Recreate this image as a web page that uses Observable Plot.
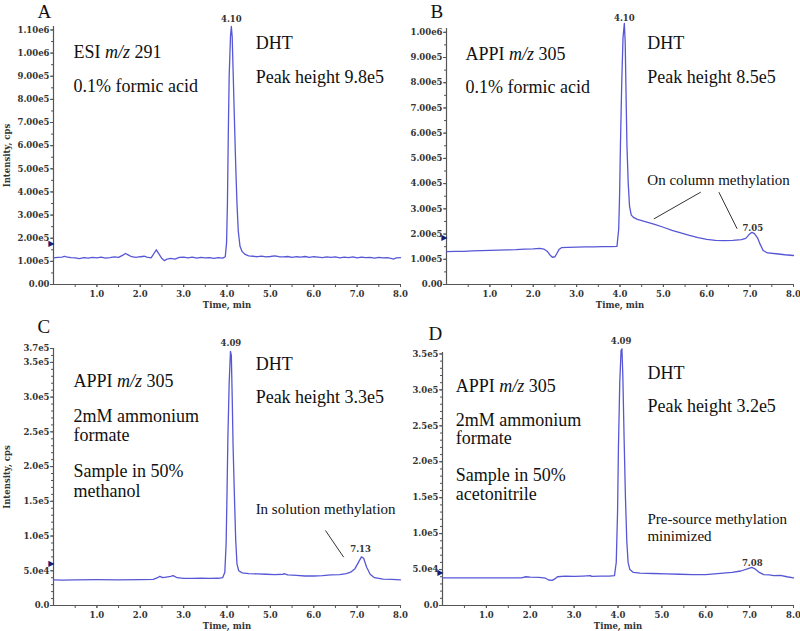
<!DOCTYPE html>
<html>
<head>
<meta charset="utf-8">
<script src="https://cdn.jsdelivr.net/npm/d3@7"></script>
<script src="https://cdn.jsdelivr.net/npm/@observablehq/plot@0.6"></script>
<style>
  html, body { margin: 0; padding: 0; background: #fff; }
  #fig { position: relative; width: 800px; height: 631px; background: #fff; overflow: hidden; }
  #fig > div { position: absolute; }
  #fig svg { overflow: visible; }
</style>
</head>
<body>
<div id="fig">
  <div id="pA" style="left:0px;top:0px"></div>
  <div id="pB" style="left:400px;top:0px"></div>
  <div id="pC" style="left:0px;top:310px"></div>
  <div id="pD" style="left:400px;top:310px"></div>
</div>
<script>
// ---------- data (intensity in units of 1e5 cps) ----------
const UNIT = 1e5;

const timeA = [0.00,0.10,0.20,0.25,0.30,0.40,0.50,0.60,0.70,0.80,0.90,1.00,1.10,1.20,1.30,1.40,1.50,1.60,1.66,1.72,1.80,1.90,2.00,2.10,2.15,2.25,2.32,2.37,2.43,2.50,2.56,2.62,2.70,2.80,2.90,3.00,3.10,3.20,3.30,3.40,3.50,3.60,3.70,3.80,3.90,3.96,3.99,4.01,4.03,4.05,4.08,4.10,4.12,4.14,4.17,4.20,4.23,4.26,4.30,4.35,4.42,4.50,4.60,4.70,4.80,4.90,5.00,5.10,5.20,5.30,5.40,5.50,5.60,5.70,5.80,5.90,6.00,6.10,6.20,6.30,6.40,6.50,6.60,6.70,6.80,6.90,7.00,7.10,7.20,7.30,7.40,7.50,7.60,7.70,7.80,7.85,7.90,8.00];
const intensityA = [1.15,1.17,1.18,1.22,1.19,1.16,1.15,1.12,1.16,1.14,1.17,1.15,1.18,1.14,1.16,1.19,1.17,1.27,1.34,1.28,1.20,1.17,1.20,1.22,1.18,1.15,1.35,1.50,1.32,1.12,1.03,1.10,1.13,1.10,1.17,1.18,1.15,1.18,1.14,1.17,1.15,1.16,1.13,1.16,1.14,1.20,1.80,3.50,6.50,9.00,10.70,11.15,10.70,9.30,7.20,5.20,3.50,2.30,1.65,1.42,1.30,1.24,1.22,1.20,1.23,1.19,1.21,1.24,1.20,1.19,1.21,1.17,1.20,1.18,1.21,1.17,1.20,1.18,1.16,1.19,1.17,1.19,1.15,1.18,1.16,1.19,1.15,1.18,1.16,1.17,1.14,1.17,1.15,1.16,1.12,1.10,1.15,1.16];

const timeB = [0.00,0.20,0.40,0.60,0.80,1.00,1.20,1.40,1.60,1.80,2.00,2.15,2.25,2.32,2.38,2.44,2.50,2.55,2.60,2.65,2.80,3.00,3.20,3.40,3.60,3.80,3.93,3.97,3.99,4.01,4.04,4.07,4.10,4.12,4.14,4.16,4.19,4.22,4.26,4.32,4.40,4.60,4.80,5.00,5.20,5.40,5.60,5.80,6.00,6.20,6.40,6.60,6.80,6.90,6.97,7.04,7.10,7.17,7.23,7.30,7.40,7.60,7.80,8.00];
const intensityB = [1.30,1.31,1.31,1.33,1.34,1.35,1.36,1.37,1.38,1.40,1.41,1.43,1.40,1.32,1.18,1.08,1.10,1.25,1.40,1.46,1.47,1.48,1.49,1.49,1.50,1.50,1.51,2.20,3.50,5.50,8.00,9.80,10.35,9.60,7.50,5.50,4.00,3.10,2.75,2.65,2.58,2.48,2.38,2.27,2.15,2.05,1.95,1.86,1.79,1.75,1.74,1.75,1.78,1.83,1.97,2.07,2.02,1.85,1.60,1.35,1.25,1.22,1.18,1.15];

const timeC = [0.00,0.20,0.50,1.00,1.50,2.00,2.30,2.40,2.45,2.52,2.60,2.70,2.76,2.85,3.00,3.20,3.40,3.60,3.80,3.90,3.95,3.98,4.00,4.02,4.05,4.08,4.10,4.12,4.14,4.17,4.20,4.23,4.27,4.35,4.50,4.70,4.90,5.10,5.30,5.31,5.40,5.60,5.80,6.00,6.20,6.40,6.60,6.75,6.85,6.95,7.03,7.10,7.15,7.22,7.30,7.40,7.60,7.80,8.00];
const intensityC = [0.370,0.365,0.370,0.372,0.370,0.372,0.375,0.400,0.420,0.400,0.410,0.420,0.430,0.400,0.390,0.390,0.395,0.390,0.392,0.400,0.480,0.900,1.600,2.400,3.200,3.660,3.600,3.000,2.300,1.600,0.950,0.600,0.500,0.470,0.460,0.455,0.450,0.445,0.450,0.460,0.440,0.435,0.425,0.425,0.430,0.440,0.445,0.460,0.480,0.530,0.620,0.700,0.680,0.550,0.450,0.400,0.380,0.375,0.370];

const timeD = [0.00,0.50,1.00,1.50,1.80,1.90,2.00,2.20,2.35,2.42,2.50,2.56,2.62,2.80,3.00,3.20,3.37,3.40,3.60,3.80,3.92,3.96,3.99,4.01,4.04,4.07,4.09,4.11,4.14,4.17,4.20,4.23,4.27,4.35,4.50,4.80,5.10,5.40,5.70,6.00,6.20,6.40,6.60,6.80,6.95,7.05,7.12,7.22,7.32,7.45,7.55,7.70,7.85,8.00];
const intensityD = [0.385,0.385,0.385,0.385,0.385,0.400,0.395,0.390,0.380,0.355,0.350,0.370,0.400,0.410,0.405,0.410,0.415,0.405,0.410,0.410,0.415,0.600,1.300,2.200,3.100,3.550,3.570,3.200,2.300,1.500,0.900,0.600,0.500,0.460,0.450,0.445,0.440,0.435,0.430,0.430,0.440,0.450,0.460,0.480,0.510,0.530,0.510,0.460,0.430,0.425,0.415,0.420,0.400,0.385];

// ---------- ticks ----------
const xTickValues = [1, 2, 3, 4, 5, 6, 7, 8];
const xTickLabels = ["1.0", "2.0", "3.0", "4.0", "5.0", "6.0", "7.0", "8.0"];
const xMinorTicks = [0.5, 1, 1.5, 2, 2.5, 3, 3.5, 4, 4.5, 5, 5.5, 6, 6.5, 7, 7.5, 8];

const yTicksA = [0, 1e5, 2e5, 3e5, 4e5, 5e5, 6e5, 7e5, 8e5, 9e5, 1e6, 1.1e6];
const yLabelsA = ["0.00","1.00e5","2.00e5","3.00e5","4.00e5","5.00e5","6.00e5","7.00e5","8.00e5","9.00e5","1.00e6","1.10e6"];
const yTicksB = [0, 1e5, 2e5, 3e5, 4e5, 5e5, 6e5, 7e5, 8e5, 9e5, 1e6];
const yLabelsB = ["0.00","1.00e5","2.00e5","3.00e5","4.00e5","5.00e5","6.00e5","7.00e5","8.00e5","9.00e5","1.00e6"];
const yTicksC = [0, 5e4, 1e5, 1.5e5, 2e5, 2.5e5, 3e5, 3.5e5, 3.7e5];
const yLabelsC = ["0.0","5.0e4","1.0e5","1.5e5","2.0e5","2.5e5","3.0e5","3.5e5","3.7e5"];
const yTicksD = [0, 5e4, 1e5, 1.5e5, 2e5, 2.5e5, 3e5, 3.5e5];
const yLabelsD = ["0.0","5.0e4","1.0e5","1.5e5","2.0e5","2.5e5","3.0e5","3.5e5"];

// ---------- annotations ----------
const notesA = [
  {t: 0.46, v: 9.77e5, label: "ESI m/z 291"},
  {t: 0.46, v: 8.30e5, label: "0.1% formic acid"},
  {t: 4.66, v: 10.16e5, label: "DHT"},
  {t: 4.66, v: 8.69e5, label: "Peak height 9.8e5"}
];
const notesB = [
  {t: 0.44, v: 8.92e5, label: "APPI m/z 305"},
  {t: 0.44, v: 7.61e5, label: "0.1% formic acid"},
  {t: 4.63, v: 9.32e5, label: "DHT"},
  {t: 4.63, v: 7.97e5, label: "Peak height 8.5e5"}
];
const notesC = [
  {t: 0.46, v: 3.143e5, label: "APPI m/z 305"},
  {t: 0.46, v: 2.639e5, label: "2mM ammonium"},
  {t: 0.46, v: 2.375e5, label: "formate"},
  {t: 0.46, v: 1.847e5, label: "Sample in 50%"},
  {t: 0.46, v: 1.559e5, label: "methanol"},
  {t: 4.66, v: 3.393e5, label: "DHT"},
  {t: 4.66, v: 2.912e5, label: "Peak height 3.3e5"}
];
const notesD = [
  {t: 0.30, v: 2.967e5, label: "APPI m/z 305"},
  {t: 0.30, v: 2.504e5, label: "2mM ammonium"},
  {t: 0.30, v: 2.250e5, label: "formate"},
  {t: 0.30, v: 1.739e5, label: "Sample in 50%"},
  {t: 0.30, v: 1.461e5, label: "acetonitrile"},
  {t: 4.67, v: 3.154e5, label: "DHT"},
  {t: 4.67, v: 2.689e5, label: "Peak height 3.2e5"}
];
const smallNotesB = [{t: 4.63, v: 3.93e5, label: "On column methylation"}];
const smallNotesC = [{t: 4.66, v: 1.32e5, label: "In solution methylation"}];
const smallNotesD = [
  {t: 4.67, v: 1.137e5, label: "Pre-source methylation"},
  {t: 4.67, v: 0.895e5, label: "minimized"}
];
const linksB = [
  {t1: 4.78, v1: 2.60e5, t2: 5.86, v2: 3.66e5},
  {t1: 6.28, v1: 3.66e5, t2: 6.70, v2: 2.21e5}
];
const linksC = [{t1: 6.69, v1: 0.695e5, t2: 6.27, v2: 1.08e5}];

const peaksA = [{t: 4.10, v: 11.34e5, label: "4.10"}];
const peaksB = [{t: 4.10, v: 10.43e5, label: "4.10"}, {t: 7.06, v: 2.14e5, label: "7.05"}];
const peaksC = [{t: 4.09, v: 3.743e5, label: "4.09"}, {t: 7.08, v: 0.767e5, label: "7.13"}];
const peaksD = [{t: 4.07, v: 3.641e5, label: "4.09"}, {t: 7.06, v: 0.556e5, label: "7.08"}];

const markerA = [1.78e5], markerB = [1.87e5], markerC = [0.60e5], markerD = [0.463e5];
const lettersA = [{t: -0.369, v: 11.50e5, label: "A"}];
const lettersB = [{t: -0.369, v: 10.55e5, label: "B"}];
const lettersC = [{t: -0.369, v: 3.916e5, label: "C"}];
const lettersD = [{t: -0.319, v: 3.687e5, label: "D"}];

// ---------- drawing ----------
const traceColor = "#5757d6";
const axisColor = "#555";
const serif = "Liberation Serif";

function makePanel(cfg) {
  const table = cfg.time.map((t, i) => ({t, v: cfg.intensity[i] * UNIT}));
  const yLabelMap = new Map(cfg.yTicks.map((d, i) => [d, cfg.yLabels[i]]));
  const xLabelMap = new Map(xTickValues.map((d, i) => [d, xTickLabels[i]]));
  const marks = [
    Plot.axisX(xMinorTicks, {tickSize: 3, tickFormat: () => "", label: null, stroke: axisColor}),
    Plot.axisX(xTickValues, {tickSize: 3, tickPadding: 3, tickFormat: d => xLabelMap.get(d), label: null, stroke: axisColor, fill: "#333"}),
    Plot.axisY(cfg.yMinor, {tickSize: 2, tickFormat: () => "", label: null, stroke: axisColor}),
    Plot.axisY(cfg.yTicks, {tickSize: 3, tickPadding: 1, tickFormat: d => yLabelMap.get(d), label: null, stroke: axisColor, fill: "#333"}),
    Plot.ruleX([0], {stroke: axisColor, strokeWidth: 1.2}),
    Plot.ruleY([0], {stroke: axisColor, strokeWidth: 1.2}),
    Plot.line(table, {x: "t", y: "v", stroke: traceColor, strokeWidth: 1.3}),
    Plot.text(["Time, min"], {frameAnchor: "bottom", lineAnchor: "middle", dy: 20.5, fill: "#333"}),
    Plot.text(cfg.notes, {x: "t", y: "v", text: "label", textAnchor: "start", lineAnchor: "bottom", fontFamily: serif, fontSize: 18, fontWeight: "normal", fill: "#111"}),
    Plot.text(cfg.peaks, {x: "t", y: "v", text: "label", textAnchor: "middle", lineAnchor: "bottom", fill: "#333"}),
    Plot.text(cfg.marker, {x: () => 0, y: d => d, text: () => "\u25B6", textAnchor: "end", lineAnchor: "middle", dx: 1, fontFamily: "DejaVu Sans", fontSize: 8, fontWeight: "normal", fill: "#1b1b70"}),
    Plot.text(cfg.letter, {x: "t", y: "v", text: "label", textAnchor: "start", lineAnchor: "bottom", fontFamily: serif, fontSize: 19, fontWeight: "normal", fill: "#111"})
  ];
  if (cfg.smallNotes) marks.push(Plot.text(cfg.smallNotes, {x: "t", y: "v", text: "label", textAnchor: "start", lineAnchor: "bottom", fontFamily: serif, fontSize: 15, fontWeight: "normal", fill: "#111"}));
  if (cfg.links) marks.push(Plot.link(cfg.links, {x1: "t1", y1: "v1", x2: "t2", y2: "v2", stroke: "#333", strokeWidth: 1}));
  if (cfg.ylabel) marks.push(Plot.text(["Intensity, cps"], {frameAnchor: "left", textAnchor: "middle", lineAnchor: "middle", rotate: -90, dx: -46, fill: "#333"}));
  return Plot.plot({
    width: cfg.width, height: cfg.height,
    marginLeft: cfg.marginLeft, marginRight: cfg.marginRight,
    marginTop: cfg.marginTop, marginBottom: cfg.marginBottom,
    x: {domain: [0, 8]},
    y: {domain: [0, cfg.yMax]},
    style: {background: "transparent", overflow: "visible", fontFamily: "DejaVu Serif", fontSize: "8.5px", fontWeight: "bold", color: "#444"},
    marks
  });
}

const minorAB = d3.range(0, 1.11e6, 5e4);
const minorCD = d3.range(0, 3.71e5, 1e4);

const panels = [
  {id: "pA", time: timeA, intensity: intensityA, width: 400, height: 310, marginLeft: 53, marginRight: 0, marginTop: 26, marginBottom: 26, yMax: 11.15e5, yTicks: yTicksA, yLabels: yLabelsA, yMinor: minorAB, notes: notesA, peaks: peaksA, marker: markerA, letter: lettersA, ylabel: true},
  {id: "pB", time: timeB, intensity: intensityB, width: 400, height: 310, marginLeft: 46, marginRight: 7, marginTop: 28, marginBottom: 26, yMax: 10.15e5, yTicks: yTicksB, yLabels: yLabelsB, yMinor: minorAB.filter(d => d <= 1.0e6), notes: notesB, smallNotes: smallNotesB, links: linksB, peaks: peaksB, marker: markerB, letter: lettersB, ylabel: false},
  {id: "pC", time: timeC, intensity: intensityC, width: 400, height: 321, marginLeft: 53, marginRight: 0, marginTop: 38, marginBottom: 26, yMax: 3.7e5, yTicks: yTicksC, yLabels: yLabelsC, yMinor: minorCD, notes: notesC, smallNotes: smallNotesC, links: linksC, peaks: peaksC, marker: markerC, letter: lettersC, ylabel: true},
  {id: "pD", time: timeD, intensity: intensityD, width: 400, height: 321, marginLeft: 42, marginRight: 7, marginTop: 42, marginBottom: 26, yMax: 3.52e5, yTicks: yTicksD, yLabels: yLabelsD, yMinor: minorCD.filter(d => d <= 3.5e5), notes: notesD, smallNotes: smallNotesD, peaks: peaksD, marker: markerD, letter: lettersD, ylabel: false}
];

for (const cfg of panels) {
  const svg = makePanel(cfg);
  document.getElementById(cfg.id).appendChild(svg);
  // italicize "m/z"
  svg.querySelectorAll("text").forEach(el => {
    if (el.children.length === 0 && el.textContent.includes("m/z")) {
      const parts = el.textContent.split("m/z");
      el.textContent = "";
      const ns = "http://www.w3.org/2000/svg";
      el.appendChild(document.createTextNode(parts[0]));
      const ts = document.createElementNS(ns, "tspan");
      ts.setAttribute("font-style", "italic");
      ts.textContent = "m/z";
      el.appendChild(ts);
      el.appendChild(document.createTextNode(parts[1]));
    }
  });
}
</script>
</body>
</html>
